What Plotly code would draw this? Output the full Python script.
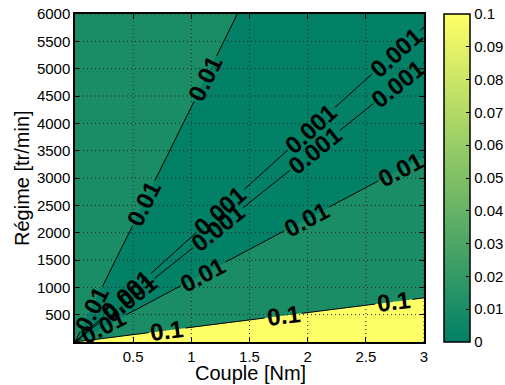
import math
import numpy as np
import plotly.graph_objects as go

# ---- data ----
# Contour lines are straight lines through the origin: Régime = ratio * Couple.
# Ratio (tr/min per Nm) and field level along each ray (the valley between the two 0.001 lines is < 0.001).
line_ratio = [20, 269, 1130, 1700, 1810, 1920, 4300, 1.0e6]
line_level = [1.0, 0.1, 0.01, 0.001, 0.0005, 0.001, 0.01, 0.05]
contour_levels = [0.001, 0.01, 0.1]

# the labelled contour lines drawn in the picture
drawn_ratio = [4300, 1920, 1700, 1130, 269]
drawn_label = ["0.01", "0.001", "0.001", "0.01", "0.1"]
# Couple positions of the inline labels along each drawn line
label_couple = [
    [0.14, 0.59, 1.12],
    [0.45, 1.25, 2.03, 2.76],
    [0.47, 1.23, 2.06, 2.78],
    [0.245, 1.10, 1.99, 2.80],
    [0.79, 1.79, 2.74],
]

couple_range = [0, 3]
regime_range = [0, 6000]
x_ticks = [0.5, 1, 1.5, 2, 2.5, 3]
y_ticks = [500, 1000, 1500, 2000, 2500, 3000, 3500, 4000, 4500, 5000, 5500, 6000]
cbar_ticks = [0, 0.01, 0.02, 0.03, 0.04, 0.05, 0.06, 0.07, 0.08, 0.09, 0.1]

# ---- layout constants ----
FIG_W, FIG_H = 505, 385
M_L, M_R, M_T, M_B = 75, 81, 14, 43
PLOT_W = FIG_W - M_L - M_R
PLOT_H = FIG_H - M_T - M_B
px_per_x = PLOT_W / (couple_range[1] - couple_range[0])
px_per_y = PLOT_H / (regime_range[1] - regime_range[0])
LABEL_SIZE = 24

font_family = "Liberation Sans, Arial, Helvetica, sans-serif"

# ---- field on a grid ----
couple = np.linspace(couple_range[0], couple_range[1], 301)
regime = np.linspace(regime_range[0], regime_range[1], 301)
C, N = np.meshgrid(couple, regime)
with np.errstate(divide="ignore", invalid="ignore"):
    r = N / C
r = np.nan_to_num(r, nan=0.0, posinf=1e12)
logz = np.interp(np.log10(np.where(r > 0, r, 1e-12)),
                 np.log10(line_ratio), np.log10(line_level))

dark = "rgb(2,129,102)"
med = "rgb(26,140,102)"
yel = "rgb(255,255,102)"
summer = [[0, "rgb(0,128,102)"], [1, "rgb(255,255,102)"]]

fig = go.Figure()

# filled bands (log10 scale so that levels 0.001, 0.01, 0.1 are evenly spaced)
fig.add_trace(go.Contour(
    x=couple, y=regime, z=logz,
    autocontour=False,
    contours=dict(start=np.log10(contour_levels[0]), end=np.log10(contour_levels[-1]),
                  size=1, coloring="fill", showlines=False),
    colorscale=[[0, dark], [0.5, dark], [0.5, med], [0.8333, med], [0.8333, yel], [1, yel]],
    line=dict(width=0),
    showscale=False, hoverinfo="skip",
))


def text_width(s, size):
    return sum((0.278 if ch == "." else 0.556) for ch in s) * size


annotations = []
for ratio, lab, xs_lab in zip(drawn_ratio, drawn_label, label_couple):
    slope_px = ratio * px_per_y / px_per_x
    ang = math.atan(slope_px)
    half_gap_px = text_width(lab, LABEL_SIZE) / 2 + 2
    half_gap_x = half_gap_px * math.cos(ang) / px_per_x
    x_end = min(couple_range[1], regime_range[1] / ratio)
    xs = [0.0]
    for xc in sorted(xs_lab):
        xs += [xc - half_gap_x, None, xc + half_gap_x]
    xs.append(x_end)
    ys = [None if v is None else ratio * v for v in xs]
    fig.add_trace(go.Scatter(x=xs, y=ys, mode="lines", line=dict(color="black", width=1),
                             hoverinfo="skip", showlegend=False, connectgaps=False))
    for xc in xs_lab:
        annotations.append(dict(
            text=lab, x=xc, y=ratio * xc, xref="x", yref="y", showarrow=False,
            xanchor="center", yanchor="middle", textangle=-math.degrees(ang),
            font=dict(family=font_family, size=LABEL_SIZE, color="black", weight="bold"),
            borderpad=0,
        ))

# colorbar only
fig.add_trace(go.Scatter(
    x=[None], y=[None], mode="markers",
    marker=dict(color=[0], cmin=cbar_ticks[0], cmax=cbar_ticks[-1], colorscale=summer,
                showscale=True,
                colorbar=dict(x=(444 - M_L) / PLOT_W, xanchor="left", xpad=0, y=0.5, yanchor="middle",
                              len=1, ypad=0, thickness=26,
                              outlinewidth=1.5, outlinecolor="black",
                              tickvals=cbar_ticks, tickformat=".2~f",
                              ticks="inside", ticklen=4, tickcolor="black",
                              tickfont=dict(family=font_family, size=15, color="black"))),
    showlegend=False, hoverinfo="skip",
))

# dotted grid drawn above the filled contours
shapes = []
for xv in x_ticks:
    shapes.append(dict(type="line", xref="x", yref="y", x0=xv, x1=xv,
                       y0=regime_range[0], y1=regime_range[1], layer="above",
                       line=dict(color="#262626", width=1, dash="1px,3px")))
for yv in y_ticks:
    shapes.append(dict(type="line", xref="x", yref="y", y0=yv, y1=yv,
                       x0=couple_range[0], x1=couple_range[1], layer="above",
                       line=dict(color="#262626", width=1, dash="1px,3px")))

axis_common = dict(showline=True, linecolor="black", linewidth=1.5, mirror="allticks",
                   ticks="inside", ticklen=5, tickcolor="black", showgrid=False,
                   zeroline=False, layer="above traces",
                   tickfont=dict(family=font_family, size=15, color="black"))

annotations += [
    dict(text="Couple [Nm]", xref="paper", yref="paper", x=(250 - M_L) / PLOT_W,
         y=-(373 - (M_T + PLOT_H)) / PLOT_H,
         xanchor="center", yanchor="middle", showarrow=False,
         font=dict(family=font_family, size=20, color="black")),
    dict(text="Régime [tr/min]", xref="paper", yref="paper", x=(22 - M_L) / PLOT_W, y=0.5,
         xanchor="center", yanchor="middle", textangle=-90, showarrow=False,
         font=dict(family=font_family, size=20, color="black")),
]

fig.update_layout(
    width=FIG_W, height=FIG_H,
    margin=dict(l=M_L, r=M_R, t=M_T, b=M_B, autoexpand=False),
    paper_bgcolor="white", plot_bgcolor="white",
    showlegend=False,
    shapes=shapes,
    xaxis=dict(range=couple_range, tickvals=x_ticks, **axis_common),
    yaxis=dict(range=regime_range, tickvals=y_ticks, **axis_common),
    annotations=annotations,
)

fig.write_html("out.html", config={"displayModeBar": False},
               post_script="document.body.style.margin='0';")
